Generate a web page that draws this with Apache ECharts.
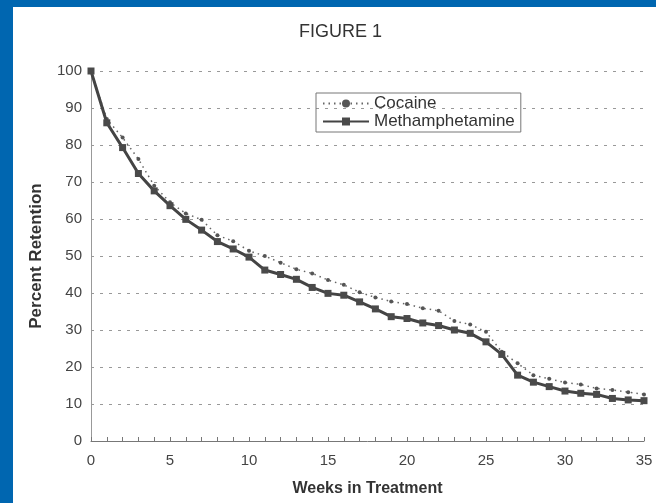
<!DOCTYPE html>
<html><head><meta charset="utf-8">
<script src="https://cdn.jsdelivr.net/npm/echarts@6/dist/echarts.min.js"></script>
<style>html,body{margin:0;padding:0;background:#fff}#c{width:656px;height:503px}</style>
</head><body><div id="c"></div>
<script>
const weeks = [0,1,2,3,4,5,6,7,8,9,10,11,12,13,14,15,16,17,18,19,20,21,22,23,24,25,26,27,28,29,30,31,32,33,34,35];
const cocaine = [100,87,82,76.2,69,64.5,61.5,59.8,55.6,54,51.4,50,48.2,46.4,45.3,43.5,42.2,40.2,38.8,37.7,37,35.9,35.2,32.4,31.5,29.5,24.1,21,17.8,16.8,15.8,15.3,14.2,13.8,13.2,12.6];
const meth = [100,86,79.3,72.3,67.6,63.6,59.9,57,53.9,51.9,49.7,46.2,45,43.7,41.5,39.9,39.4,37.6,35.7,33.6,33.1,31.9,31.2,30,29.1,26.8,23.4,17.8,15.9,14.7,13.5,12.9,12.6,11.5,11.1,10.9];
const xTicks = [0,5,10,15,20,25,30,35];
const yTicks = [0,10,20,30,40,50,60,70,80,90,100];

const chart = echarts.init(document.getElementById('c'), null, {renderer:'canvas'});
const ff = '"Liberation Sans", Arial, sans-serif';
chart.setOption({
  backgroundColor: '#fff',
  animation: false,
  textStyle: {fontFamily: ff},
  title: {text: 'FIGURE 1', left: 294, top: 18,
    textStyle: {fontSize: 18, fontWeight: 'normal', color: '#333', fontFamily: ff}},
  graphic: [
    {type:'rect', shape:{x:0,y:0,width:656,height:7}, style:{fill:'#0066b0'}, silent:true},
    {type:'rect', shape:{x:0,y:0,width:13,height:503}, style:{fill:'#0066b0'}, silent:true}
  ],
  legend: {
    left: 316, top: 93, orient: 'vertical',
    borderColor: '#777', borderWidth: 1, padding: [2, 6, 2, 6],
    itemWidth: 46, itemHeight: 10, itemGap: 1,
    textStyle: {fontSize: 17, color: '#333', fontFamily: ff},
    data: ['Cocaine', 'Methamphetamine']
  },
  grid: {left: 91, right: 12, top: 71, bottom: 62},
  xAxis: {
    type: 'value', min: 0, max: 35, interval: 5,
    name: 'Weeks in Treatment', nameLocation: 'middle', nameGap: 40,
    nameTextStyle: {fontSize: 16, fontWeight: 'bold', color: '#333'},
    axisLine: {lineStyle: {color: '#777', width: 1}},
    axisTick: {show: true, inside: true, length: 4, lineStyle: {color: '#777'}},
    minorTick: {show: true, splitNumber: 5, length: 4, lineStyle: {color: '#777'}},
    axisLabel: {fontSize: 15, color: '#444', margin: 12,
      customValues: xTicks},
    splitLine: {show: false}
  },
  yAxis: {
    type: 'value', min: 0, max: 100, interval: 10,
    name: 'Percent Retention', nameLocation: 'middle', nameGap: 46,
    nameTextStyle: {fontSize: 17, fontWeight: 'bold', color: '#333'},
    axisLine: {show: true, lineStyle: {color: '#999', width: 1}},
    axisTick: {show: false},
    axisLabel: {fontSize: 15, color: '#444', margin: 9},
    splitLine: {show: true, lineStyle: {color: '#999', type: [3, 6], width: 1}}
  },
  series: [
    {name: 'Cocaine', type: 'line', data: weeks.map((w,i)=>[w, cocaine[i]]),
      symbol: 'circle', symbolSize: 4, showAllSymbol: true,
      lineStyle: {color: '#666', width: 1.5, type: [1.5, 4]},
      itemStyle: {color: '#555'}, z: 2},
    {name: 'Methamphetamine', type: 'line', data: weeks.map((w,i)=>[w, meth[i]]),
      symbol: 'rect', symbolSize: 7, showAllSymbol: true,
      lineStyle: {color: '#444', width: 3},
      itemStyle: {color: '#4a4a4a'}, z: 3}
  ]
});
</script></body></html>
